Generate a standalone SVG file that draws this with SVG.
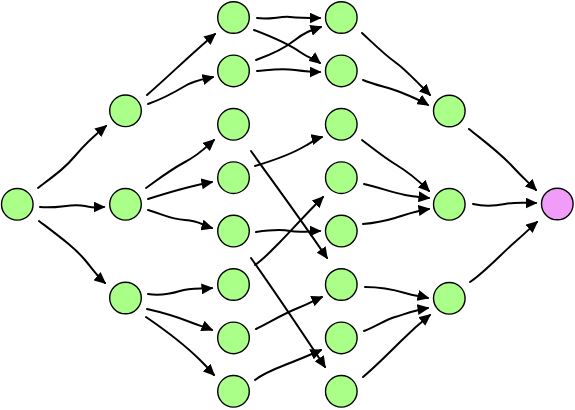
<svg xmlns="http://www.w3.org/2000/svg" width="575" height="410" viewBox="0 0 575 410">
<defs>
<marker id="arr" markerUnits="userSpaceOnUse" markerWidth="12" markerHeight="11" viewBox="0 0 12 11" refX="10.5" refY="5.5" orient="auto">
<path d="M0,0 L12,5.5 L0,11 z" fill="#000"/>
</marker>
<style>
.n circle{fill:#aaff88;stroke:#000;stroke-width:1.4}
.n.end circle{fill:#f09cf8}
#edges path{fill:none;stroke:#000;stroke-width:2;stroke-linecap:round;marker-end:url(#arr)}
</style>
</defs>
<rect width="575" height="410" fill="#fff"/>
<g id="edges">
<path d="M38,188 C55,175 65,168 75,156 S95,135 106,126"/>
<path d="M40,207 C60,209 70,203 85,206 S98,207 104,207"/>
<path d="M39,221 C60,237 75,248 85,260 S98,277 105,283"/>
<path d="M147,95 C170,75 190,55 215,34"/>
<path d="M148,104 C165,98 175,92 185,86 S205,79 213,77"/>
<path d="M146,188 C160,178 170,170 185,162 S205,148 214,140"/>
<path d="M148,199 C170,192 190,186 212,182"/>
<path d="M148,210 C165,215 170,219 185,220 S202,225 212,228"/>
<path d="M148,294 C160,296 170,294 180,291 S200,289 212,288"/>
<path d="M147,309 C165,313 180,318 190,322 S205,327 212,330"/>
<path d="M146,317 C165,330 185,345 200,360 S210,371 214,375"/>
<path d="M257,18 C270,20 280,16 290,17 S310,18 320,18"/>
<path d="M254,30 C275,38 290,45 300,52 S315,59 320,63"/>
<path d="M256,60 C270,55 285,48 295,40 S312,30 321,27"/>
<path d="M257,71 C270,70 280,68 295,70 S312,72 320,72"/>
<path d="M251,151 C270,178 292,207 327,258"/>
<path d="M255,166 C275,160 290,155 305,146 S318,138 322,137"/>
<path d="M256,232 C270,230 280,229 290,231 S310,231 320,231"/>
<path d="M255,265 C265,258 272,250 280,242 S305,215 323,197"/>
<path d="M251,258 C270,285 292,317 325,367"/>
<path d="M256,329 C270,322 285,313 298,308 S315,300 322,297"/>
<path d="M255,380 C265,372 280,367 290,363 S310,355 321,350"/>
<path d="M362,33 C375,45 385,55 395,62 S420,85 430,95"/>
<path d="M363,80 C375,85 390,88 400,92 S420,100 428,105"/>
<path d="M362,140 C375,150 385,158 395,164 S418,180 429,191"/>
<path d="M364,184 C380,188 395,193 405,195 S420,197 429,198"/>
<path d="M363,224 C375,223 385,221 395,218 S415,211 429,209"/>
<path d="M365,287 C380,287 395,290 405,293 S420,296 428,298"/>
<path d="M364,331 C375,327 385,320 395,317 S415,310 428,308"/>
<path d="M363,377 C375,367 390,352 400,342 S420,323 430,315"/>
<path d="M469,129 C485,142 500,153 512,166 S528,182 536,190"/>
<path d="M473,204 C485,207 495,206 505,204 S525,203 536,203"/>
<path d="M470,282 C485,272 500,255 515,242 S530,228 537,222"/>
</g>
<g id="a" class="n"><circle cx="17.3" cy="204.3" r="15.8"/></g>
<g id="b1" class="n"><circle cx="125.5" cy="110.8" r="15.8"/></g>
<g id="b2" class="n"><circle cx="125.5" cy="204.3" r="15.8"/></g>
<g id="b3" class="n"><circle cx="125.5" cy="298" r="15.8"/></g>
<g id="c1" class="n"><circle cx="233.5" cy="17.5" r="15.8"/></g>
<g id="c2" class="n"><circle cx="233.5" cy="70.9" r="15.8"/></g>
<g id="c3" class="n"><circle cx="233.5" cy="124.3" r="15.8"/></g>
<g id="c4" class="n"><circle cx="233.5" cy="177.7" r="15.8"/></g>
<g id="c5" class="n"><circle cx="233.5" cy="231.1" r="15.8"/></g>
<g id="c6" class="n"><circle cx="233.5" cy="284.5" r="15.8"/></g>
<g id="c7" class="n"><circle cx="233.5" cy="337.9" r="15.8"/></g>
<g id="c8" class="n"><circle cx="233.5" cy="391.3" r="15.8"/></g>
<g id="d1" class="n"><circle cx="341.3" cy="17.5" r="15.8"/></g>
<g id="d2" class="n"><circle cx="341.3" cy="70.9" r="15.8"/></g>
<g id="d3" class="n"><circle cx="341.3" cy="124.3" r="15.8"/></g>
<g id="d4" class="n"><circle cx="341.3" cy="177.7" r="15.8"/></g>
<g id="d5" class="n"><circle cx="341.3" cy="231.1" r="15.8"/></g>
<g id="d6" class="n"><circle cx="341.3" cy="284.5" r="15.8"/></g>
<g id="d7" class="n"><circle cx="341.3" cy="337.9" r="15.8"/></g>
<g id="d8" class="n"><circle cx="341.3" cy="391.3" r="15.8"/></g>
<g id="e1" class="n"><circle cx="449.3" cy="111" r="15.8"/></g>
<g id="e2" class="n"><circle cx="449.3" cy="204.3" r="15.8"/></g>
<g id="e3" class="n"><circle cx="449.3" cy="298.3" r="15.8"/></g>
<g id="f" class="n end"><circle cx="557.3" cy="204" r="15.8"/></g>
</svg>
